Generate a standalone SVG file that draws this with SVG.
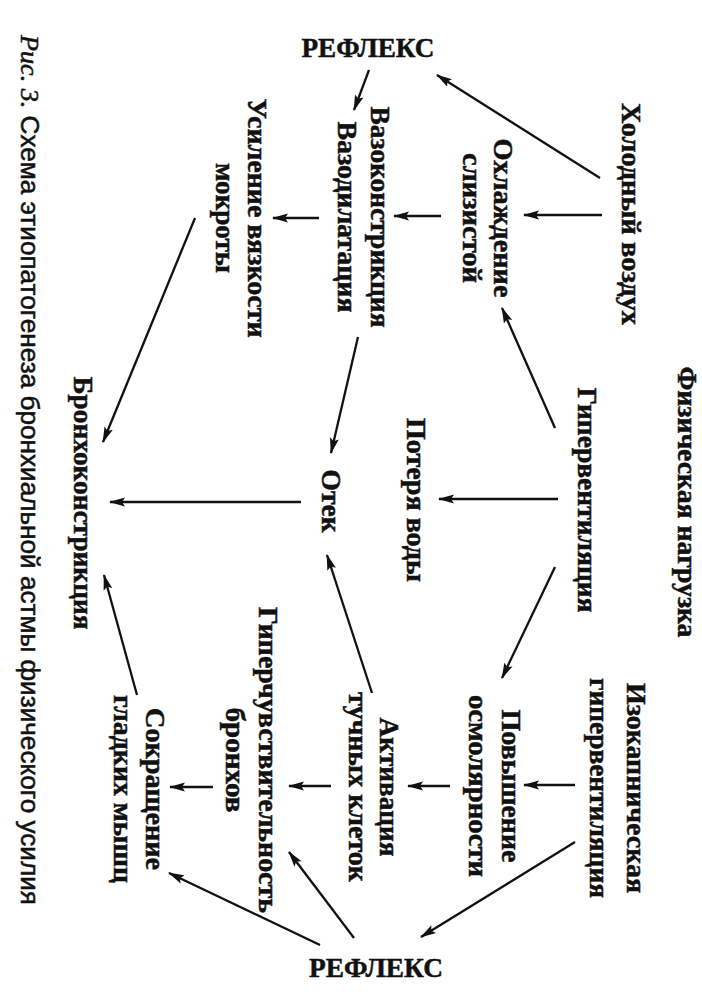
<svg xmlns="http://www.w3.org/2000/svg" width="702" height="1000" viewBox="0 0 702 1000">
<style>
.n{font-family:"Liberation Serif","Times New Roman",serif;font-weight:bold;font-size:27px;fill:#111;stroke:#111;stroke-width:0.5;text-anchor:middle}
.t{font-family:"Liberation Sans",Arial,sans-serif;font-size:25px;fill:#111;stroke:#111;stroke-width:0.5}
.ti{font-family:"Liberation Serif","Times New Roman",serif;font-style:italic}
.c line{stroke:#111;stroke-width:2.3;marker-end:url(#ah)}
</style>
<defs>
<marker id="ah" markerWidth="16" markerHeight="10" refX="15" refY="5" orient="auto" markerUnits="userSpaceOnUse">
<path d="M0,0.5 L16,5 L0,9.5 L3,5 Z" fill="#111"/>
</marker>
</defs>
<rect width="702" height="1000" fill="#fff"/>

<g id="title" transform="translate(21,35) rotate(90)">
<text class="t" x="0" y="0" textLength="870" lengthAdjust="spacingAndGlyphs"><tspan class="ti">Рис. 3.</tspan> Схема этиопатогенеза бронхиальной астмы физического усилия</text>
</g>

<g id="reflex-top"><text class="n" x="368" y="57" textLength="133" lengthAdjust="spacingAndGlyphs">РЕФЛЕКС</text></g>
<g id="reflex-bottom"><text class="n" x="376" y="977" textLength="134" lengthAdjust="spacingAndGlyphs">РЕФЛЕКС</text></g>

<g id="cold-air" transform="translate(622,214) rotate(90)"><text class="n" x="0" y="0" textLength="222" lengthAdjust="spacingAndGlyphs">Холодный воздух</text></g>
<g id="exercise" transform="translate(678,502) rotate(90)"><text class="n" x="0" y="0" textLength="271" lengthAdjust="spacingAndGlyphs">Физическая нагрузка</text></g>
<g id="isocapnic" transform="translate(0,788)">
<text class="n" transform="translate(627,0) rotate(90)" textLength="210" lengthAdjust="spacingAndGlyphs">Изокапническая</text>
<text class="n" transform="translate(590,0) rotate(90)" textLength="220" lengthAdjust="spacingAndGlyphs">гипервентиляция</text>
</g>
<g id="mucosa-cooling" transform="translate(0,218)">
<text class="n" transform="translate(494,0) rotate(90)" textLength="159" lengthAdjust="spacingAndGlyphs">Охлаждение</text>
<text class="n" transform="translate(463,0) rotate(90)" textLength="130" lengthAdjust="spacingAndGlyphs">слизистой</text>
</g>
<g id="hyperventilation" transform="translate(578,500) rotate(90)"><text class="n" x="0" y="0" textLength="225" lengthAdjust="spacingAndGlyphs">Гипервентиляция</text></g>
<g id="water-loss" transform="translate(407,500) rotate(90)"><text class="n" x="0" y="0" textLength="164" lengthAdjust="spacingAndGlyphs">Потеря воды</text></g>
<g id="edema" transform="translate(322,501) rotate(90)"><text class="n" x="0" y="0" textLength="63" lengthAdjust="spacingAndGlyphs">Отек</text></g>
<g id="vaso" transform="translate(0,217)">
<text class="n" transform="translate(371,0) rotate(90)" textLength="221" lengthAdjust="spacingAndGlyphs">Вазоконстрикция</text>
<text class="n" transform="translate(338,0) rotate(90)" textLength="191" lengthAdjust="spacingAndGlyphs">Вазодилатация</text>
</g>
<g id="sputum" transform="translate(0,218)">
<text class="n" transform="translate(248,0) rotate(90)" textLength="239" lengthAdjust="spacingAndGlyphs">Усиление вязкости</text>
<text class="n" transform="translate(216,0) rotate(90)" textLength="110" lengthAdjust="spacingAndGlyphs">мокроты</text>
</g>
<g id="bronchoconstriction" transform="translate(74,503) rotate(90)"><text class="n" x="0" y="0" textLength="253" lengthAdjust="spacingAndGlyphs">Бронхоконстрикция</text></g>
<g id="osmolarity" transform="translate(0,786)">
<text class="n" transform="translate(502,0) rotate(90)" textLength="153" lengthAdjust="spacingAndGlyphs">Повышение</text>
<text class="n" transform="translate(469,0) rotate(90)" textLength="182" lengthAdjust="spacingAndGlyphs">осмолярности</text>
</g>
<g id="mast-cells" transform="translate(0,787)">
<text class="n" transform="translate(380,0) rotate(90)" textLength="139" lengthAdjust="spacingAndGlyphs">Активация</text>
<text class="n" transform="translate(349,0) rotate(90)" textLength="190" lengthAdjust="spacingAndGlyphs">тучных клеток</text>
</g>
<g id="hyperreactivity" transform="translate(0,760)">
<text class="n" transform="translate(259,0) rotate(90)" textLength="306" lengthAdjust="spacingAndGlyphs">Гиперчувствительность</text>
<text class="n" transform="translate(226,0) rotate(90)" textLength="105" lengthAdjust="spacingAndGlyphs">бронхов</text>
</g>
<g id="smooth-muscle" transform="translate(0,789)">
<text class="n" transform="translate(146,0) rotate(90)" textLength="162" lengthAdjust="spacingAndGlyphs">Сокращение</text>
<text class="n" transform="translate(114,0) rotate(90)" textLength="188" lengthAdjust="spacingAndGlyphs">гладких мышц</text>
</g>

<g id="connectors" class="c">
<line x1="600" y1="178" x2="437" y2="75"/>
<line x1="369" y1="70" x2="354" y2="110"/>
<line x1="602" y1="215" x2="524" y2="215"/>
<line x1="441" y1="216" x2="394" y2="216"/>
<line x1="319" y1="218" x2="273" y2="218"/>
<line x1="195" y1="218" x2="103" y2="442"/>
<line x1="358" y1="337" x2="331" y2="453"/>
<line x1="555" y1="428" x2="502" y2="308"/>
<line x1="558" y1="499" x2="439" y2="499"/>
<line x1="301" y1="502" x2="110" y2="502"/>
<line x1="555" y1="567" x2="502" y2="678"/>
<line x1="575" y1="785" x2="524" y2="785"/>
<line x1="450" y1="786" x2="408" y2="786"/>
<line x1="331" y1="786" x2="289" y2="786"/>
<line x1="213" y1="787" x2="170" y2="787"/>
<line x1="575" y1="842" x2="421" y2="937"/>
<line x1="320" y1="945" x2="169" y2="873"/>
<line x1="354" y1="938" x2="289" y2="852"/>
<line x1="372" y1="693" x2="327" y2="555"/>
<line x1="137" y1="695" x2="104" y2="575"/>
</g>
</svg>
